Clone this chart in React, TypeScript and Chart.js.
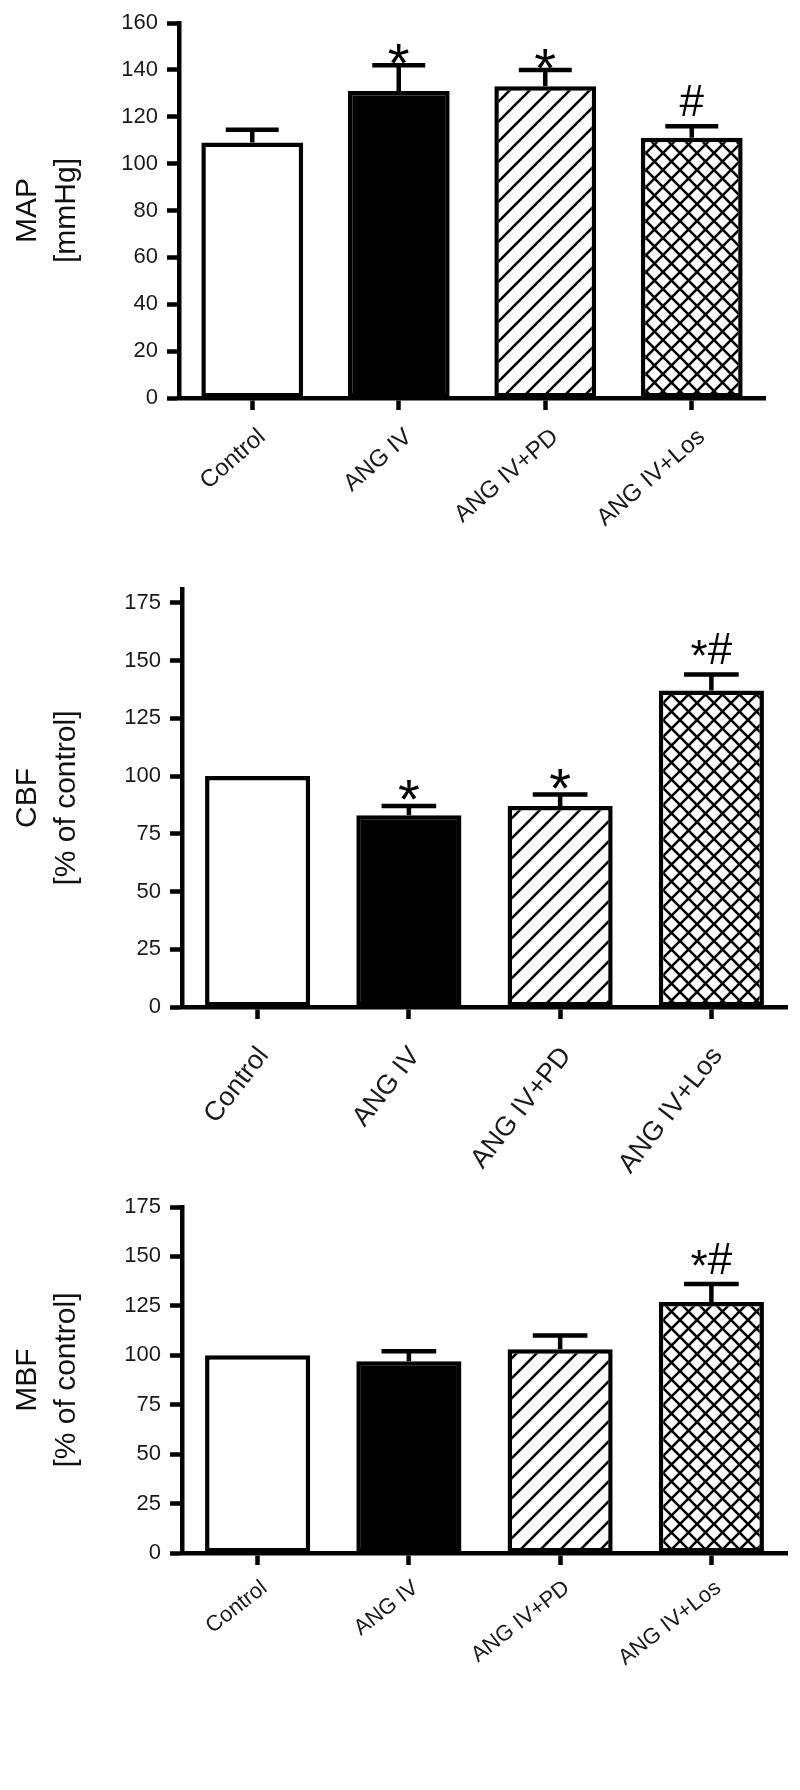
import React, { useEffect, useRef } from 'react';
import { Chart, registerables } from 'chart.js';

Chart.register(...registerables);

// ---------------- data ----------------
const categories = ['Control', 'ANG IV', 'ANG IV+PD', 'ANG IV+Los'];

const mapValues = [109, 131, 133, 111];
const mapErrors = [5.5, 11, 7, 5];
const mapMarkers = ['', '*', '*', '#'];
const mapTicks = [0, 20, 40, 60, 80, 100, 120, 140, 160];
const mapTitle = ['MAP', '[mmHg]'];

const cbfValues = [100, 83, 87, 137];
const cbfErrors = [0, 4, 5, 7];
const cbfMarkers = ['', '*', '*', '*#'];
const cbfTicks = [0, 25, 50, 75, 100, 125, 150, 175];
const cbfTitle = ['CBF', '[% of control]'];

const mbfValues = [100, 97, 103, 127];
const mbfErrors = [0, 5, 7, 9];
const mbfMarkers = ['', '', '', '*#'];
const mbfTicks = [0, 25, 50, 75, 100, 125, 150, 175];
const mbfTitle = ['MBF', '[% of control]'];

// ---------------- styles ----------------
const FONT = '"Liberation Sans", Arial, Helvetica, sans-serif';

function makeHatch(period: number, lw: number, cross: boolean): CanvasPattern | string {
  const c = document.createElement('canvas');
  c.width = period;
  c.height = period;
  const g = c.getContext('2d');
  if (!g) return '#fff';
  g.fillStyle = '#fff';
  g.fillRect(0, 0, period, period);
  g.strokeStyle = '#000';
  g.lineWidth = lw;
  const p = period;
  const seg = (x1: number, y1: number, x2: number, y2: number) => {
    g.beginPath();
    g.moveTo(x1, y1);
    g.lineTo(x2, y2);
    g.stroke();
  };
  seg(-p / 2, p * 1.5, p * 1.5, -p / 2);
  seg(-p / 2, p / 2, p / 2, -p / 2);
  seg(p / 2, p * 1.5, p * 1.5, p / 2);
  if (cross) {
    seg(-p / 2, -p / 2, p * 1.5, p * 1.5);
    seg(p / 2, -p / 2, p * 1.5, p / 2);
    seg(-p / 2, p / 2, p / 2, p * 1.5);
  }
  const pat = g.createPattern(c, 'repeat');
  return pat || '#fff';
}

const errorMarksPlugin = {
  id: 'errorMarks',
  afterDatasetsDraw(chart: any, _args: any, opts: any) {
    const { ctx } = chart;
    const meta = chart.getDatasetMeta(0);
    const yScale = chart.scales.y;
    const values = chart.data.datasets[0].data as number[];
    ctx.save();
    ctx.strokeStyle = '#000';
    ctx.fillStyle = '#000';
    ctx.lineWidth = 4.5;
    meta.data.forEach((bar: any, i: number) => {
      const v = values[i];
      const e = opts.errors[i] || 0;
      const x = bar.x;
      const half = bar.width * 0.26;
      const yTop = yScale.getPixelForValue(v);
      const yCap = yScale.getPixelForValue(v + e);
      if (e > 0) {
        ctx.beginPath();
        ctx.moveTo(x, yTop);
        ctx.lineTo(x, yCap);
        ctx.moveTo(x - half, yCap);
        ctx.lineTo(x + half, yCap);
        ctx.stroke();
      }
      const m: string = opts.markers[i];
      if (!m) return;
      ctx.textBaseline = 'alphabetic';
      if (!m.includes('#')) {
        ctx.font = `${opts.starSize}px ${FONT}`;
        ctx.textAlign = 'center';
        ctx.fillText(m, x, yCap + opts.loneStarDy);
      } else {
        ctx.font = `${opts.hashSize}px ${FONT}`;
        ctx.textAlign = 'left';
        const chars = [...m];
        const widths = chars.map((ch) => ctx.measureText(ch).width);
        const total = widths.reduce((a, b) => a + b, 0);
        let cx = x - total / 2;
        const base = yCap - opts.hashGap;
        chars.forEach((ch, k) => {
          ctx.fillText(ch, cx, ch === '*' ? base + opts.comboStarDy : base);
          cx += widths[k];
        });
      }
    });
    ctx.restore();
  },
};

type PanelProps = {
  top: number;
  height: number;
  values: number[];
  errors: number[];
  markers: string[];
  ticks: number[];
  max: number;
  title: string[];
  chartTop: number;
  chartBottom: number;
  chartLeft: number;
  chartRight: number;
  rotation: number;
  labelSize: number;
  labelPad: number;
  labelShift: number;
  loneStarDy: number;
};

function Panel(p: PanelProps) {
  const ref = useRef<HTMLCanvasElement | null>(null);
  useEffect(() => {
    if (!ref.current) return;
    const fills = ['#ffffff', '#000000', makeHatch(20, 2.6, false), makeHatch(17, 2.6, true)];
    const axisGrid = {
      display: true,
      drawOnChartArea: false,
      drawTicks: true,
      tickLength: 12,
      tickWidth: 4.5,
      tickColor: '#000',
    };
    const axisBorder = { display: true, width: 4.5, color: '#000', z: 1 };
    const chart = new Chart(ref.current, {
      type: 'bar',
      data: {
        labels: categories,
        datasets: [
          {
            data: p.values,
            backgroundColor: fills as any,
            borderColor: '#000',
            borderWidth: 4.5,
            borderSkipped: false,
            barPercentage: 0.695,
            categoryPercentage: 1,
          },
        ],
      },
      options: {
        responsive: false,
        animation: false,
        devicePixelRatio: 1,
        layout: {
          padding: { top: p.chartTop, right: 800 - p.chartRight, left: 0, bottom: 0 },
        },
        plugins: {
          legend: { display: false },
          tooltip: { enabled: false },
          errorMarks: {
            errors: p.errors,
            markers: p.markers,
            starSize: 56,
            hashSize: 44,
            loneStarDy: p.loneStarDy,
            hashGap: 10,
            comboStarDy: 7,
          },
        } as any,
        scales: {
          x: {
            offset: true,
            grid: { ...axisGrid, offset: false },
            border: axisBorder,
            ticks: {
              autoSkip: false,
              minRotation: p.rotation,
              maxRotation: p.rotation,
              padding: p.labelPad,
              labelOffset: p.labelShift,
              color: '#1a1a1a',
              font: { family: FONT, size: p.labelSize },
            },
            afterFit: (s: any) => {
              s.height = p.height - p.chartBottom;
            },
          },
          y: {
            min: 0,
            max: p.max,
            afterBuildTicks: (s: any) => {
              s.ticks = p.ticks.map((v) => ({ value: v }));
            },
            grid: axisGrid,
            border: axisBorder,
            ticks: {
              padding: 9,
              color: '#1a1a1a',
              font: { family: FONT, size: 22 },
            },
            title: {
              display: true,
              text: p.title,
              color: '#111',
              font: { family: FONT, size: 30, lineHeight: 1.3 },
              padding: { top: 8, bottom: 0 },
            },
            afterFit: (s: any) => {
              s.width = p.chartLeft;
            },
          },
        },
      } as any,
      plugins: [errorMarksPlugin as any],
    });
    return () => chart.destroy();
  }, []);
  return (
    <canvas
      ref={ref}
      width={800}
      height={p.height}
      style={{ position: 'absolute', left: 0, top: p.top, width: 800, height: p.height, display: 'block' }}
    />
  );
}

export default function App() {
  return (
    <div style={{ position: 'absolute', left: 0, top: 0, width: 800, height: 1790, background: '#fff', overflow: 'hidden' }}>
      <Panel
        top={0}
        height={550}
        values={mapValues}
        errors={mapErrors}
        markers={mapMarkers}
        ticks={mapTicks}
        max={160}
        title={mapTitle}
        chartTop={23}
        chartBottom={398}
        chartLeft={179}
        chartRight={765}
        rotation={41}
        labelSize={24}
        labelPad={13}
        labelShift={10}
        loneStarDy={17}
      />
      <Panel
        top={550}
        height={650}
        values={cbfValues}
        errors={cbfErrors}
        markers={cbfMarkers}
        ticks={cbfTicks}
        max={181}
        title={cbfTitle}
        chartTop={39}
        chartBottom={457}
        chartLeft={182}
        chartRight={787}
        rotation={52}
        labelSize={27}
        labelPad={22}
        labelShift={6}
        loneStarDy={12}
      />
      <Panel
        top={1150}
        height={640}
        values={mbfValues}
        errors={mbfErrors}
        markers={mbfMarkers}
        ticks={mbfTicks}
        max={175}
        title={mbfTitle}
        chartTop={57}
        chartBottom={403}
        chartLeft={182}
        chartRight={787}
        rotation={38}
        labelSize={22}
        labelPad={10}
        labelShift={7}
        loneStarDy={17}
      />
    </div>
  );
}
